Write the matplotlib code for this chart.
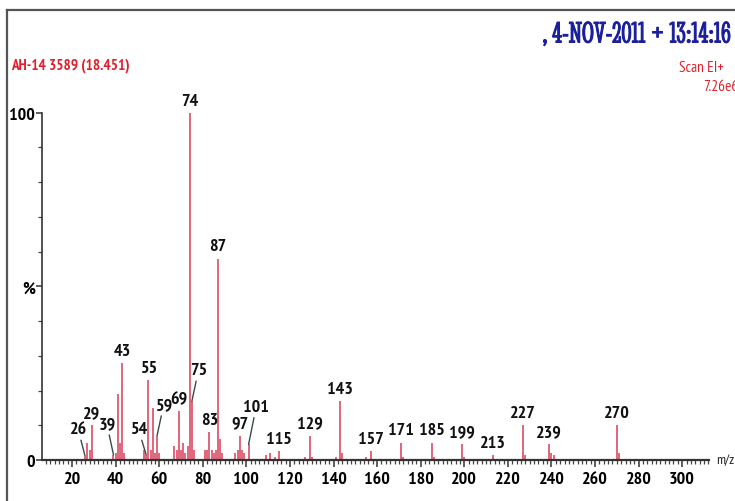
import matplotlib
matplotlib.use('Agg')
import matplotlib.pyplot as plt
import matplotlib.patheffects as pe
from matplotlib.lines import Line2D
from matplotlib.ticker import MultipleLocator, FixedLocator

# EI mass spectrum, scan 3589 of sample AH-14
mz = [26, 27, 28, 29, 39, 40, 41, 42, 43, 44, 53, 54, 55, 56, 57, 58, 59, 60,
      67, 68, 69, 70, 71, 72, 73, 74, 75, 76, 81, 82, 83, 84, 85, 86, 87, 88, 89,
      95, 96, 97, 98, 99, 101, 109, 111, 113, 115, 127, 129, 130, 141, 143, 144,
      155, 157, 171, 172, 185, 186, 199, 200, 213, 227, 228, 239, 240, 241, 270, 271]
intensity = [1, 5, 3, 10, 1.5, 2, 19, 5, 28, 2, 3, 1.5, 23, 3, 15, 2, 7, 2,
             4, 3, 14, 3, 5, 2, 4, 100, 17, 3, 3, 3, 8, 3, 2, 3, 58, 6, 2,
             2, 3, 7, 3, 2, 4.5, 1.5, 2, 1, 2.5, 1, 7, 1, 1, 17, 2,
             1, 2.5, 5, 1, 5, 1, 4.5, 1, 1.5, 10, 1.5, 4.5, 2, 1.5, 10, 2]

# peaks that carry an m/z label
labelled = [26, 29, 39, 43, 54, 55, 59, 69, 74, 75, 83, 87, 97, 101, 115,
            129, 143, 157, 171, 185, 199, 213, 227, 239, 270]
# labels moved off their peak and joined to it by a leader line
leader_text = {26: (22.8, 6.5), 39: (36.0, 8.0), 54: (50.5, 6.5),
               59: (62.0, 13.5), 75: (78.0, 23.5), 101: (104.5, 13.0)}

x_ticks = list(range(20, 301, 20))
y_minor = list(range(10, 100, 10))

narrow = ['PT Sans Narrow', 'DejaVu Sans']
peak_col = '#db4c64'
ink = '#111111'

W, H = 735, 502
fig = plt.figure(figsize=(W / 100, H / 100), dpi=100)

# axes box: y=0 at px 461, x spans px 42..709
ax = fig.add_axes([42 / W, (H - 461) / H, (709 - 42) / W, (461 - 72) / H])
ax.set_xlim(6.2, 312.3)
ax.set_ylim(0, 112)

ax.vlines(mz, 0, intensity, color=peak_col, lw=1.2, zorder=2)

height = dict(zip(mz, intensity))
for m in labelled:
    h = height[m]
    if m in leader_text:
        tx, ty = leader_text[m]
        ax.annotate(str(m), xy=(m, h), xytext=(tx, ty), ha='center', va='bottom',
                    fontsize=13, fontweight='bold', family=narrow, color=ink,
                    arrowprops=dict(arrowstyle='-', color='#3c4a48', lw=1.0,
                                    shrinkA=0, shrinkB=0))
    else:
        ax.text(m, h + 1.2, str(m), ha='center', va='bottom', fontsize=13,
                fontweight='bold', family=narrow, color=ink)

for s in ('top', 'right'):
    ax.spines[s].set_visible(False)
ax.spines['left'].set_bounds(0, 100)
ax.spines['left'].set_color('#333333')
ax.spines['bottom'].set_color('#333333')
ax.spines['left'].set_linewidth(1.2)
ax.spines['bottom'].set_linewidth(1.6)

ax.xaxis.set_major_locator(FixedLocator(x_ticks))
ax.xaxis.set_minor_locator(MultipleLocator(2))
ax.yaxis.set_major_locator(FixedLocator([0, 50, 100]))
ax.yaxis.set_minor_locator(FixedLocator(y_minor))
ax.set_yticklabels(['0', '%', '100'])
ax.tick_params(axis='both', which='major', direction='out', length=5, width=1.1,
               color='#333333', labelsize=13, pad=3)
ax.tick_params(axis='both', which='minor', direction='out', length=3, width=0.9,
               color='#444444')
ax.tick_params(axis='y', which='major', length=4, pad=1)
for lab in ax.get_xticklabels() + ax.get_yticklabels():
    lab.set_family(narrow)
    lab.set_fontweight('bold')
ax.patch.set_alpha(0)

ax.text(1.01, 0.0, 'm/z', transform=ax.transAxes, ha='left', va='center',
        fontsize=10, family=narrow, color='#222222')

# header lines
fig.text(730 / W, 1 - 36 / H, ', 4-NOV-2011 + 13:14:16', ha='right', va='center',
         fontsize=22, color='#1c1f9c',
         family=['Stint Ultra Condensed', 'Liberation Serif', 'DejaVu Serif'],
         path_effects=[pe.withStroke(linewidth=0.7, foreground='#1c1f9c')])
fig.text(11 / W, 1 - 66 / H, 'AH-14 3589 (18.451)', ha='left', va='center',
         fontsize=11, fontweight='bold', color='#e0202c', family=narrow)
fig.text(679 / W, 1 - 68 / H, 'Scan EI+', ha='left', va='center',
         fontsize=11, color='#e0202c', family=narrow)
fig.text(703 / W, 1 - 87 / H, '7.26e6', ha='left', va='center',
         fontsize=11, color='#e0202c', family=narrow)

# outer frame
fig.add_artist(Line2D([7 / W, 1], [1 - 11 / H, 1 - 11 / H], transform=fig.transFigure,
                      color='#555555', lw=1.6))
fig.add_artist(Line2D([7 / W, 7 / W], [0, 1 - 11 / H], transform=fig.transFigure,
                      color='#555555', lw=1.6))

fig.savefig('out.png', dpi=100)
